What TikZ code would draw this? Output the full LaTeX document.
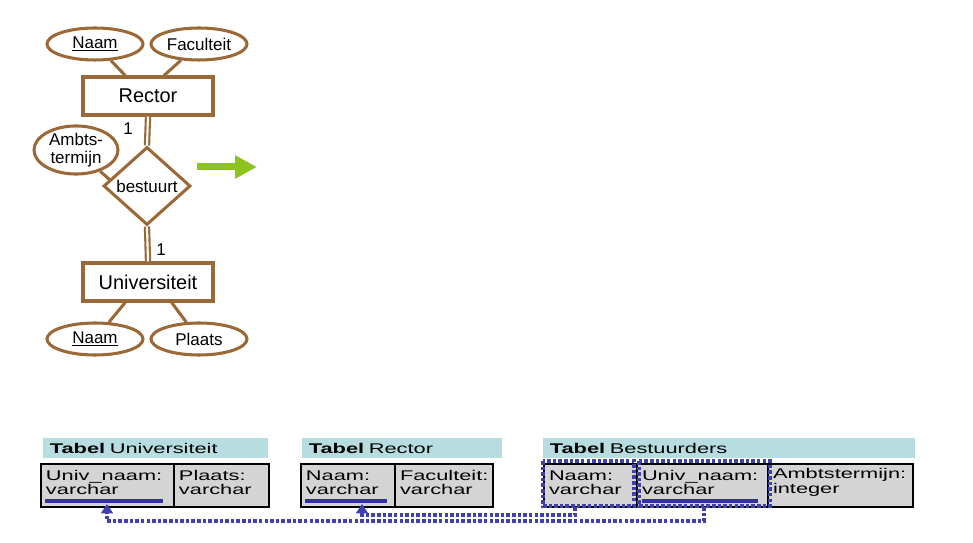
\documentclass[tikz,border=0pt]{standalone}
\usepackage{fontspec}
\setmainfont{Liberation Sans}
\newfontfamily\tabfont[FakeStretch=1.55]{Liberation Sans}
\usetikzlibrary{shapes.geometric,arrows.meta}
\definecolor{erbrown}{RGB}{155,105,55}
\definecolor{hdrcyan}{RGB}{183,221,225}
\definecolor{cellgray}{RGB}{212,212,212}
\definecolor{fkblue}{RGB}{64,64,170}
\definecolor{keyblue}{RGB}{50,50,150}
\definecolor{arrgreen}{RGB}{140,195,30}
\tikzset{
  attr/.style={ellipse, draw=erbrown, line width=2.6pt, fill=white, minimum width=2.88cm, minimum height=0.96cm, inner sep=0pt, font=\fontsize{14.5}{15.5}\selectfont},
  entity/.style={rectangle, draw=erbrown, line width=2.6pt, minimum width=3.9cm, minimum height=1.14cm, font=\fontsize{17}{20}\selectfont},
  rel/.style={diamond, draw=erbrown, line width=2.6pt, minimum width=2.61cm, minimum height=2.34cm, inner sep=0pt, shape aspect=1.1, font=\fontsize{14.5}{15.5}\selectfont},
  link/.style={draw=erbrown, line width=2.6pt},
  dlink/.style={draw=erbrown, line width=1.8pt, double=white, double distance=1.8pt},
  card/.style={font=\fontsize{14.5}{15.5}\selectfont},
  greenarr/.style={draw=arrgreen, line width=0.21cm, -{Triangle[length=0.66cm, width=0.66cm]}},
  tabhead/.style={rectangle, fill=hdrcyan, anchor=north west, minimum height=0.6cm, inner xsep=0.2cm, inner ysep=0pt, align=left, font=\tabfont\fontsize{12}{12.5}\selectfont},
  cell/.style={rectangle, draw=black, line width=1.7pt, fill=cellgray, anchor=north west, minimum height=1.29cm, inner xsep=0.15cm, inner ysep=0pt, align=left, text width=#1, font=\tabfont\fontsize{12}{12.5}\selectfont, execute at end node={\par\vspace*{5pt}}},
  keyline/.style={keyblue, line width=2.6pt},
  fkbox/.style={draw=fkblue, line width=3pt, dash pattern=on 3pt off 1.8pt},
  fk/.style={draw=fkblue, line width=3pt, dash pattern=on 3pt off 1.8pt, -{Triangle[length=8pt, width=10pt]}}
}
\begin{document}
\begin{tikzpicture}[x=0.03cm, y=-0.03cm]
\useasboundingbox (0,0) rectangle (973,543);
\node[entity] (rector) at (148,96) {Rector};
\node[attr] (rnaam) at (95,44) {\underline{Naam}};
\node[attr] (rfac) at (199,44) {Faculteit};
\node[rel] (bestuurt) at (147,186) {bestuurt};
\node[attr, minimum width=2.52cm, minimum height=1.41cm, align=center] (ambts) at (76,150) {Ambts-\\termijn};
\node[entity] (univ) at (148,282) {Universiteit};
\node[attr] (unaam) at (95,339) {\underline{Naam}};
\node[attr] (uplaats) at (199,339) {Plaats};
\node[card] (c1) at (128,129) {1};
\node[card] (c2) at (161,250) {1};
\draw[link] (rnaam) -- (rector.138);
\draw[link] (rfac) -- (rector.52);
\draw[link] (ambts) -- (bestuurt.170);
\draw[link] (unaam) -- (univ.222);
\draw[link] (uplaats) -- (univ.319);
\draw[dlink] (rector.south) -- (bestuurt.north);
\draw[dlink] (bestuurt.south) -- (univ.north);
\coordinate (arrS) at (197,167);
\coordinate (arrE) at (257,167);
\draw[greenarr] (arrS) -- (arrE);

\node[tabhead, minimum width=6.75cm, text width=6.35cm] (hU) at (43,438) {\textbf{Tabel} Universiteit};
\node[cell=3.69cm] (tUnaam) at (40,463) {Univ\_naam:\\varchar};
\node[cell=2.55cm] (tUplaats) at (173,463) {Plaats:\\varchar};
\draw[keyline] (45,501) -- (163,501);

\node[tabhead, minimum width=6cm, text width=5.6cm] (hR) at (302,438) {\textbf{Tabel} Rector};
\node[cell=2.52cm] (tRnaam) at (300,463) {Naam:\\varchar};
\node[cell=2.64cm] (tRfac) at (394,463) {Faculteit:\\varchar};
\draw[keyline] (305,501) -- (387,501);

\node[tabhead, minimum width=11.16cm, text width=10.76cm] (hB) at (543,438) {\textbf{Tabel} Bestuurders};
\node[cell=2.49cm] (tBnaam) at (543,463) {Naam:\\varchar};
\node[cell=3.63cm] (tBunaam) at (636,463) {Univ\_naam:\\varchar};
\node[cell=4.05cm] (tBambts) at (767,463) {Ambtstermijn:\\integer};
\draw[keyline] (642,501) -- (758,501);
\draw[fkbox] (543,461) rectangle (634,506);
\draw[fkbox] (639,461) rectangle (770,506);

\coordinate (fkBnaam) at (575,507);
\coordinate (fkBunaam) at (704,507);
\coordinate (fkRnaam) at (362,504);
\coordinate (fkUnaam) at (107,504);
\coordinate (rowUp) at (0,515);
\coordinate (rowLow) at (0,521);
\draw[fk] (fkBunaam) -- (fkBunaam |- rowLow) -| (fkUnaam);
\draw[fk] (fkBnaam) -- (fkBnaam |- rowUp) -| (fkRnaam);
\end{tikzpicture}
\end{document}
